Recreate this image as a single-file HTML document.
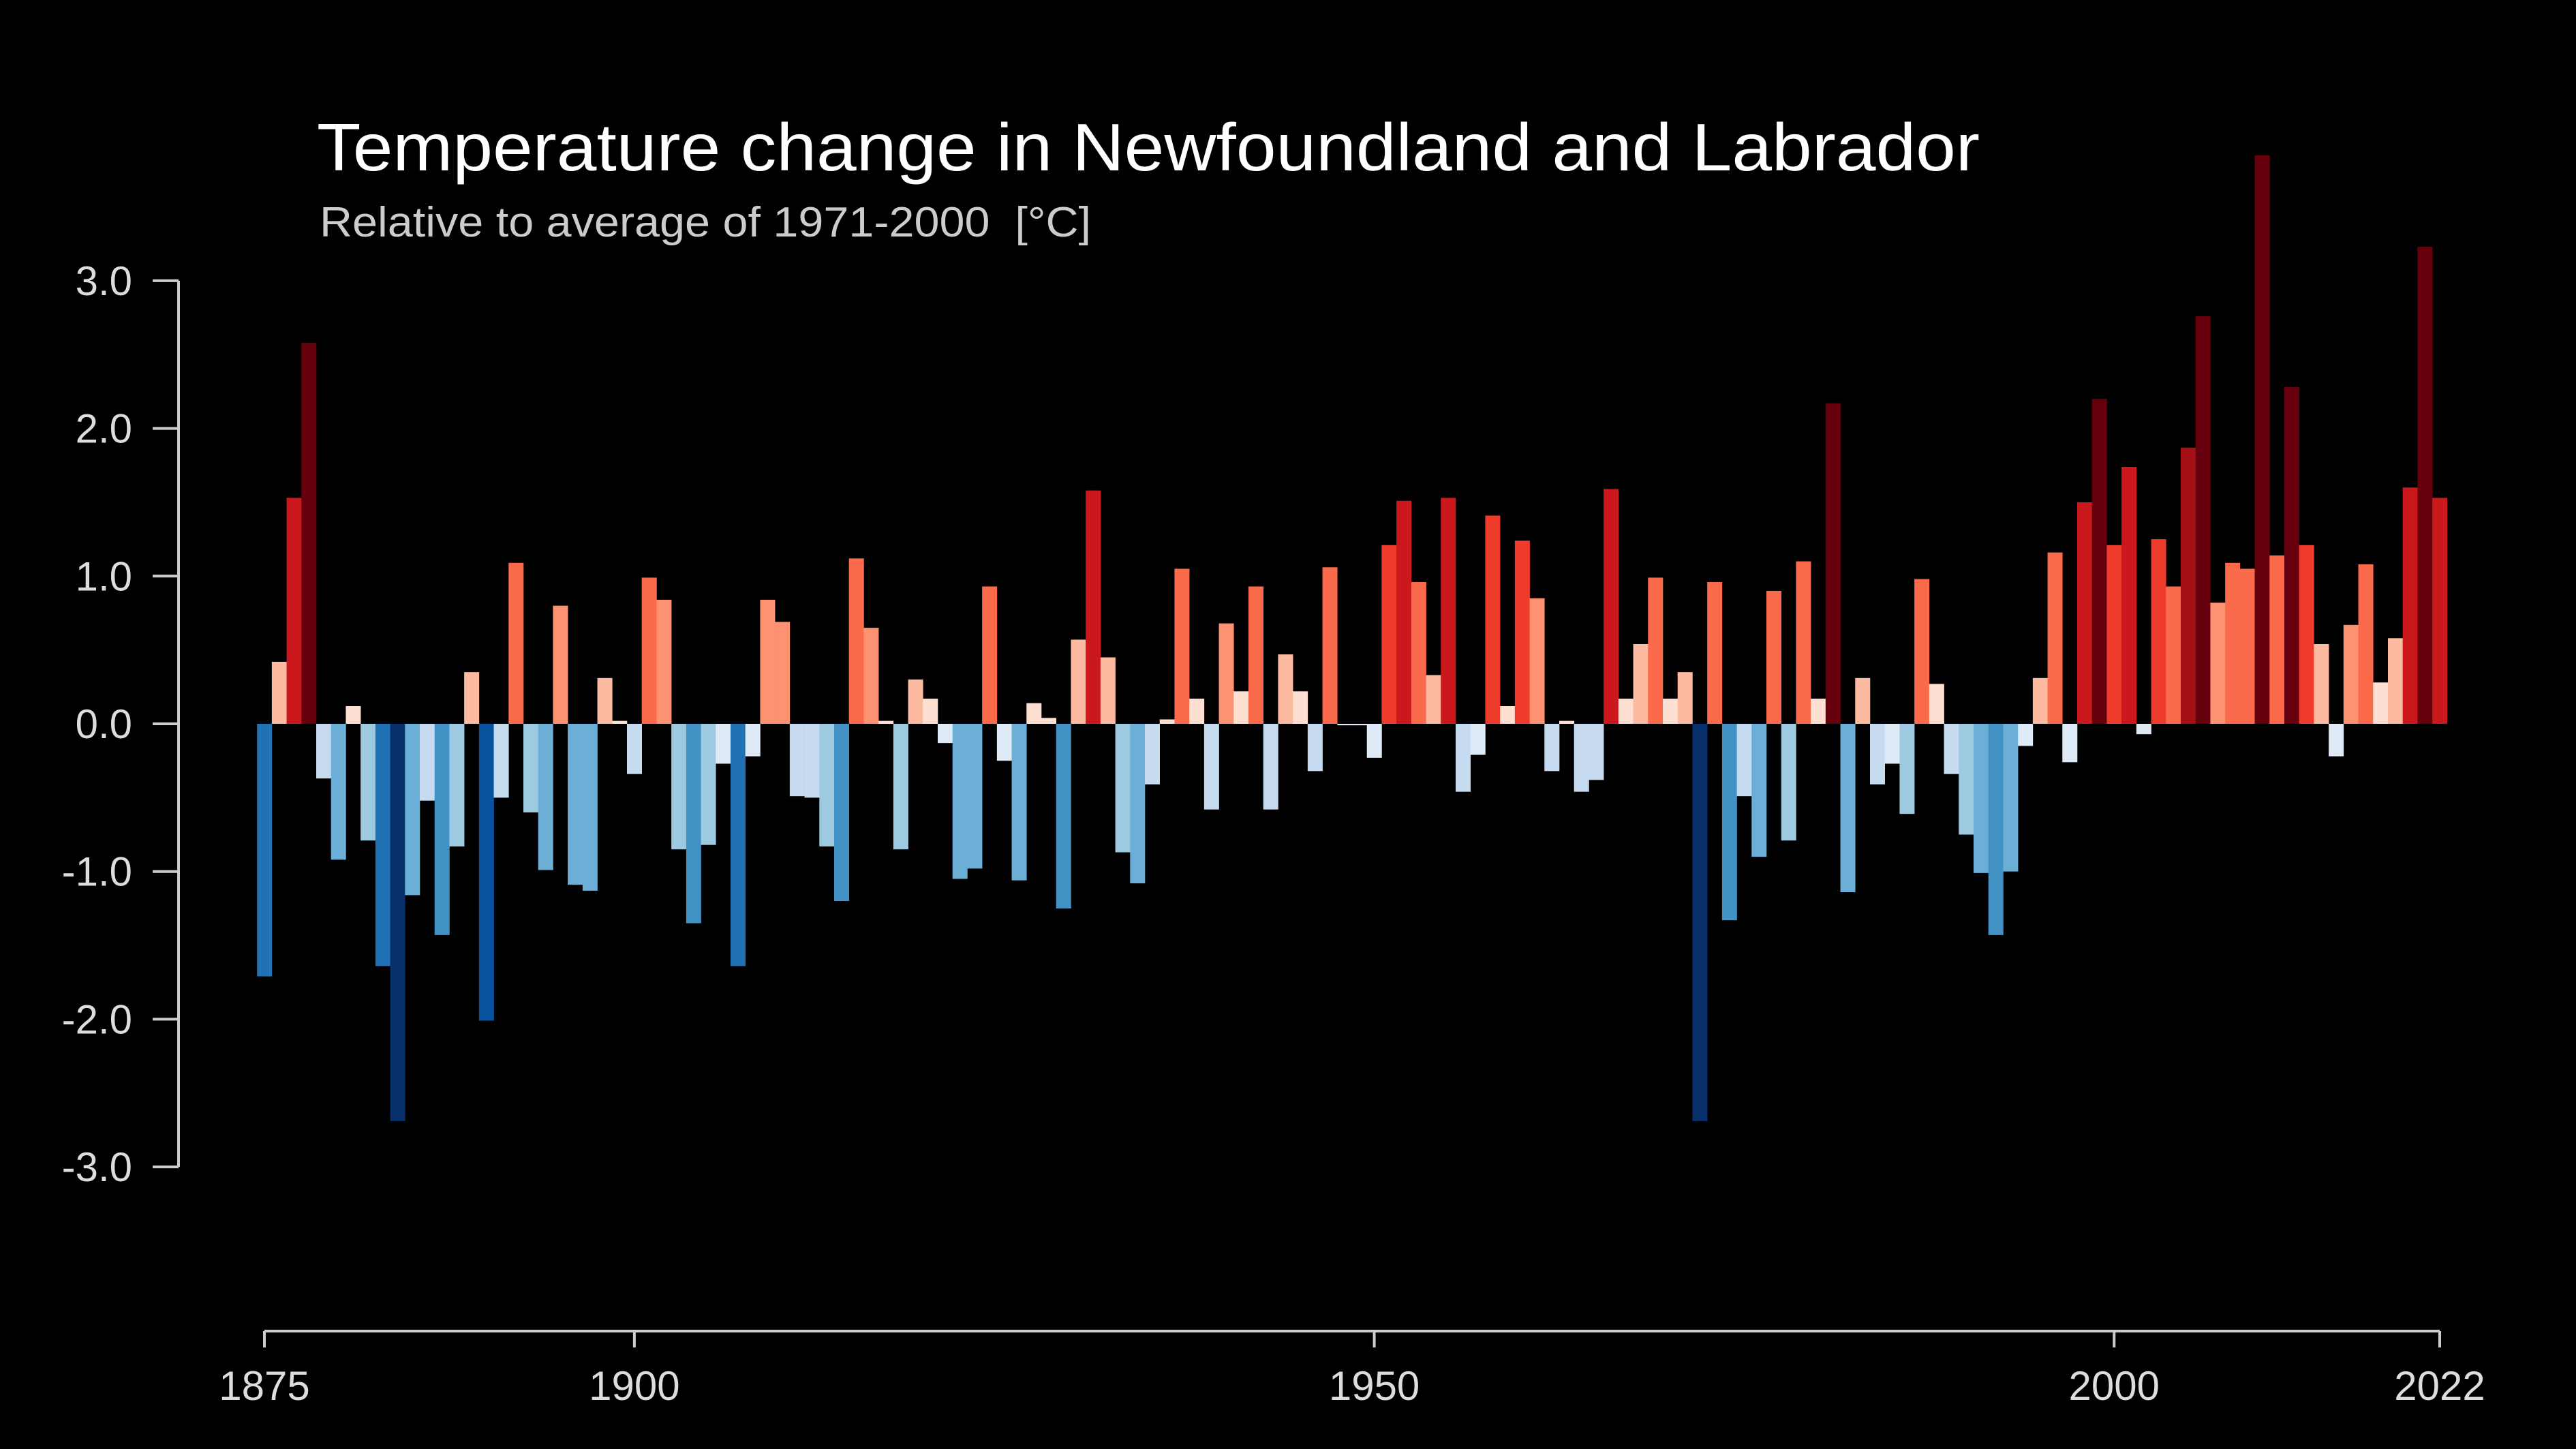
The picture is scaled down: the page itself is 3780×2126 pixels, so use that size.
<!DOCTYPE html>
<html><head><meta charset="utf-8">
<style>
html,body{margin:0;padding:0;background:#000;}
svg{display:block;}
text{font-family:"Liberation Sans",Arial,sans-serif;}
</style></head>
<body>
<svg id="chart" width="3780" height="2126" viewBox="0 0 3780 2126" xmlns="http://www.w3.org/2000/svg">
<rect x="0" y="0" width="3780" height="2126" fill="#000"/>
<text x="465" y="250" font-size="98" textLength="2440" lengthAdjust="spacingAndGlyphs" fill="#ffffff">Temperature change in Newfoundland and Labrador</text>
<text x="469" y="347" font-size="62" textLength="1132" lengthAdjust="spacingAndGlyphs" fill="#cccccc">Relative to average of 1971-2000&#160;&#160;[°C]</text>
<g id="bars"></g>
<g id="axes"></g>
</svg>
<script>
const startYear = 1875;
const anomalies = [
-1.71,0.42,1.53,2.58,-0.37,-0.92,0.12,-0.79,-1.64,-2.69,
-1.16,-0.52,-1.43,-0.83,0.35,-2.01,-0.50,1.09,-0.60,-0.99,
0.80,-1.09,-1.13,0.31,0.02,-0.34,0.99,0.84,-0.85,-1.35,
-0.82,-0.27,-1.64,-0.22,0.84,0.69,-0.49,-0.50,-0.83,-1.20,
1.12,0.65,0.02,-0.85,0.30,0.17,-0.13,-1.05,-0.98,0.93,
-0.25,-1.06,0.14,0.04,-1.25,0.57,1.58,0.45,-0.87,-1.08,
-0.41,0.03,1.05,0.17,-0.58,0.68,0.22,0.93,-0.58,0.47,
0.22,-0.32,1.06,-0.01,-0.01,-0.23,1.21,1.51,0.96,0.33,
1.53,-0.46,-0.21,1.41,0.12,1.24,0.85,-0.32,0.02,-0.46,
-0.38,1.59,0.17,0.54,0.99,0.17,0.35,-2.69,0.96,-1.33,
-0.49,-0.90,0.90,-0.79,1.10,0.17,2.17,-1.14,0.31,-0.41,
-0.27,-0.61,0.98,0.27,-0.34,-0.75,-1.01,-1.43,-1.00,-0.15,
0.31,1.16,-0.26,1.50,2.20,1.21,1.74,-0.07,1.25,0.93,
1.87,2.76,0.82,1.09,1.05,3.85,1.14,2.28,1.21,0.54,
-0.22,0.67,1.08,0.28,0.58,1.60,3.23,1.53
];
const yTicks = [3,2,1,0,-1,-2,-3];
const yTickLabels = ["3.0","2.0","1.0","0.0","-1.0","-2.0","-3.0"];
const xTicks = [1875,1900,1950,2000,2022];

const NS = "http://www.w3.org/2000/svg";
const x0 = 388, x1 = 3580, yEnd = 2022;
const yZero = 1062, yUnit = 216.7;
function xScale(yr){ return x0 + (yr - startYear) * (x1 - x0) / (yEnd - startYear); }
function yScale(v){ return yZero - v * yUnit; }
const bw = (x1 - x0) / (yEnd - startYear);
const blues = ["#deebf7","#c6dbef","#9ecae1","#6baed6","#4292c6","#2171b5","#08519c","#08306b"];
const reds = ["#fee0d2","#fcbba1","#fc9272","#fb6a4a","#ef3b2c","#cb181d","#a50f15","#67000d"];
function color(v){
  const i = Math.min(7, Math.floor(Math.abs(v) / 0.3));
  return v >= 0 ? reds[i] : blues[i];
}
const barsG = document.getElementById('bars');
anomalies.forEach((v, i) => {
  const yr = startYear + i;
  const r = document.createElementNS(NS, 'rect');
  const yTop = Math.min(yScale(v), yScale(0));
  const h = Math.abs(yScale(v) - yScale(0));
  r.setAttribute('x', xScale(yr) - bw / 2);
  r.setAttribute('y', yTop);
  r.setAttribute('width', bw + 0.3);
  r.setAttribute('height', Math.max(h, 1));
  r.setAttribute('fill', color(v));
  
  
  barsG.appendChild(r);
});
const axesG = document.getElementById('axes');
function line(x1_, y1_, x2_, y2_, name){
  const l = document.createElementNS(NS, 'line');
  l.setAttribute('x1', x1_); l.setAttribute('y1', y1_);
  l.setAttribute('x2', x2_); l.setAttribute('y2', y2_);
  l.setAttribute('stroke', '#cccccc'); l.setAttribute('stroke-width', 4);
  
  
  axesG.appendChild(l);
}
function label(x, y, s, anchor, name){
  const t = document.createElementNS(NS, 'text');
  t.setAttribute('x', x); t.setAttribute('y', y);
  t.setAttribute('text-anchor', anchor);
  t.setAttribute('font-size', 60);
  t.setAttribute('fill', '#dddddd');
  t.textContent = s;
  
  
  axesG.appendChild(t);
}
const yAxisX = 262;
line(yAxisX, yScale(3), yAxisX, yScale(-3), 'y-axis-line');
yTicks.forEach((v, i) => {
  line(yAxisX - 38, yScale(v), yAxisX, yScale(v), 'y-tick');
  label(yAxisX - 68, yScale(v) + 21, yTickLabels[i], 'end', 'y-tick-label');
});
const xAxisY = 1953;
line(xScale(1875), xAxisY, xScale(2022), xAxisY, 'x-axis-line');
xTicks.forEach(yr => {
  line(xScale(yr), xAxisY, xScale(yr), xAxisY + 24, 'x-tick');
  label(xScale(yr), 2054, String(yr), 'middle', 'x-tick-label');
});
</script>
</body></html>
